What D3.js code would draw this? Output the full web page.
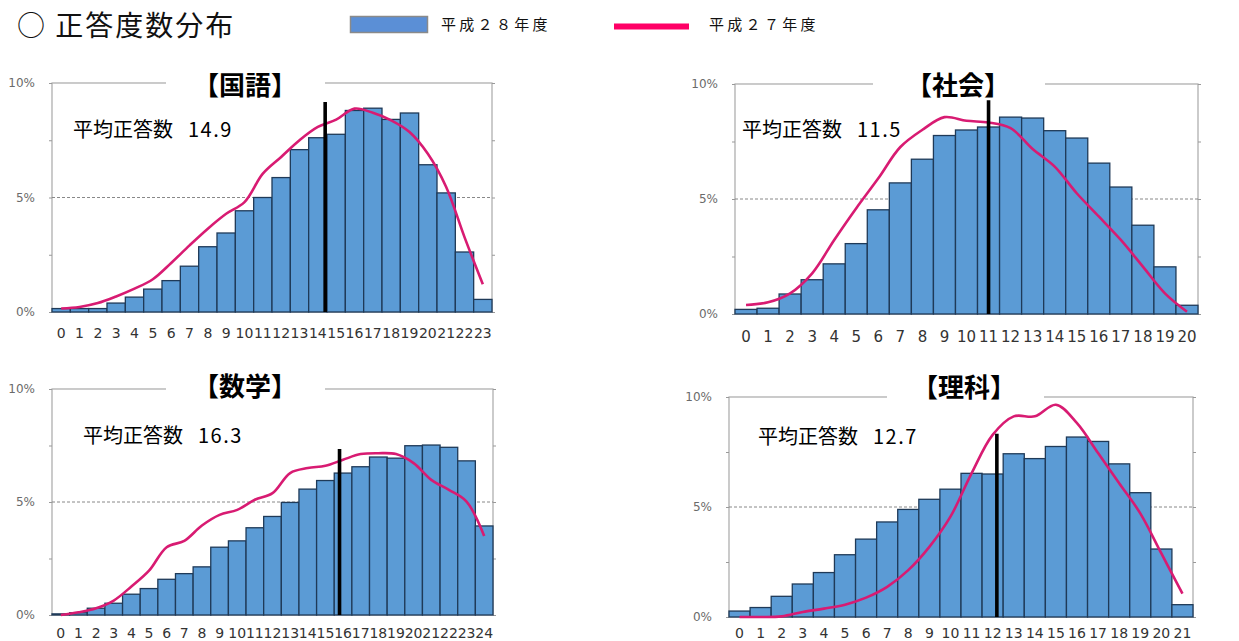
<!DOCTYPE html>
<html>
<head>
<meta charset="utf-8">
<script src="https://cdn.jsdelivr.net/npm/d3@7"></script>
<style>
  body { margin: 0; background: #fff; }
  svg { display: block; }
</style>
</head>
<body>
<svg id="chart" width="1239" height="641"></svg>
<script>
// --- data (percent of students per number of correct answers) ---
const subjects = ["国語", "社会", "数学", "理科"];
const means = [14.9, 11.5, 16.3, 12.7];
const meanLineTop = [9.17, 9.29, 7.34, 8.33];
const seriesNames = ["平成２８年度", "平成２７年度"];
const yTicks = [0, 2.5, 5, 7.5, 10];

const kokugoH28 = [0.15, 0.15, 0.15, 0.39, 0.65, 1.0, 1.37, 2.0, 2.85, 3.45, 4.42, 5.0,
                   5.87, 7.09, 7.61, 7.76, 8.8, 8.9, 8.41, 8.69, 6.43, 5.2, 2.62, 0.55];
const kokugoH27 = [0.15, 0.22, 0.39, 0.68, 1.02, 1.43, 2.14, 2.91, 3.64, 4.29, 4.8, 6.04,
                   6.77, 7.5, 8.08, 8.4, 8.88, 8.7, 8.37, 7.86, 6.91, 5.46, 3.27, 1.21];

const shakaiH28 = [0.2, 0.25, 0.87, 1.49, 2.18, 3.06, 4.53, 5.7, 6.73, 7.76, 8.0,
                   8.13, 8.56, 8.52, 7.97, 7.65, 6.56, 5.52, 3.86, 2.05, 0.38];
const shakaiH27 = [0.39, 0.51, 0.9, 1.77, 3.22, 4.6, 5.9, 7.26, 8.01, 8.56, 8.4,
                   8.33, 8.08, 7.17, 6.41, 5.25, 4.24, 3.22, 2.06, 0.9, 0.1];

const sugakuH28 = [0.05, 0.1, 0.3, 0.52, 0.92, 1.17, 1.58, 1.83, 2.13, 3.0, 3.28, 3.86, 4.36,
                   4.98, 5.57, 5.95, 6.28, 6.56, 6.99, 6.94, 7.49, 7.52, 7.42, 6.82, 3.94];
const sugakuH27 = [0.0, 0.12, 0.3, 0.64, 1.26, 1.96, 3.0, 3.28, 3.96, 4.43, 4.65, 5.1, 5.39,
                   6.28, 6.5, 6.6, 6.87, 7.12, 7.16, 7.12, 6.72, 5.98, 5.54, 5.02, 3.5];

const rikaH28 = [0.27, 0.43, 0.94, 1.5, 2.02, 2.83, 3.54, 4.32, 4.89, 5.35, 5.81,
                 6.53, 6.5, 7.42, 7.2, 7.75, 8.18, 7.98, 6.96, 5.65, 3.09, 0.56];
const rikaH27 = [0.0, 0.0, 0.03, 0.23, 0.38, 0.56, 0.88, 1.37, 2.13, 3.19, 4.56,
                 6.53, 8.28, 9.12, 9.12, 9.65, 8.81, 7.45, 6.08, 4.71, 2.89, 1.06];

const h28 = [kokugoH28, shakaiH28, sugakuH28, rikaH28];
const h27 = [kokugoH27, shakaiH27, sugakuH27, rikaH27];

// --- layout of the four panels ---
const panels = [
  { left: 52, right: 492, top: 83, bottom: 312, gap: [166, 325], titleX: 245, titleY: 83,
    avgX: 73, avgY: 137, tickY: 338, tickSize: 14 },
  { left: 735, right: 1198, top: 84, bottom: 314, gap: [873, 1045], titleX: 958, titleY: 83,
    avgX: 742, avgY: 137, tickY: 342, tickSize: 15 },
  { left: 52, right: 493, top: 389, bottom: 615, gap: [166, 325], titleX: 245, titleY: 384,
    avgX: 83, avgY: 443, tickY: 638, tickSize: 14 },
  { left: 729, right: 1193, top: 397, bottom: 617, gap: [887, 1044], titleX: 964, titleY: 385,
    avgX: 758, avgY: 444, tickY: 638, tickSize: 14 }
];

const barFill = "#5b9bd5";
const barStroke = "#1f3a58";
const lineColor = "#d81b72";
const jpFont = "'Noto Sans CJK JP', 'Noto Sans', sans-serif";

const svg = d3.select("#chart");

// header
svg.append("text")
  .attr("x", 17).attr("y", 36)
  .attr("font-family", jpFont).attr("font-size", 28)
  .attr("letter-spacing", 2)
  .attr("fill", "#111")
  .text("○ 正答度数分布");

// legend
svg.append("rect")
  .attr("x", 350.5).attr("y", 16.5).attr("width", 77).attr("height", 16)
  .attr("fill", "#5b8fd6").attr("stroke", "#8a8a8a").attr("stroke-width", 1.5);
svg.append("text")
  .attr("x", 441).attr("y", 30)
  .attr("font-family", jpFont).attr("font-size", 15).attr("letter-spacing", 3.3)
  .attr("fill", "#111").text(seriesNames[0]);
svg.append("line")
  .attr("x1", 614).attr("x2", 689).attr("y1", 26.5).attr("y2", 26.5)
  .attr("stroke", "#ff0066").attr("stroke-width", 6);
svg.append("text")
  .attr("x", 709).attr("y", 30)
  .attr("font-family", jpFont).attr("font-size", 15).attr("letter-spacing", 3.3)
  .attr("fill", "#111").text(seriesNames[1]);

panels.forEach(function(p, k) {
  const values = h28[k];
  const prev = h27[k];
  const cats = values.map((d, i) => i);

  const x = d3.scaleBand().domain(cats).range([p.left, p.right]).padding(0);
  const y = d3.scaleLinear().domain([0, 10]).range([p.bottom, p.top]);
  const xMean = d3.scaleLinear().domain([0, values.length]).range([p.left, p.right]);

  const g = svg.append("g");

  // frame
  g.append("rect")
    .attr("x", p.left).attr("y", p.top)
    .attr("width", p.right - p.left).attr("height", p.bottom - p.top)
    .attr("fill", "none").attr("stroke", "#a8a8a8").attr("stroke-width", 1.2);

  // 5% dashed gridline
  g.append("line")
    .attr("x1", p.left).attr("x2", p.right)
    .attr("y1", y(5)).attr("y2", y(5))
    .attr("stroke", "#888").attr("stroke-width", 1).attr("stroke-dasharray", "3,2");

  // y axis left
  const yAxis = g.append("g")
    .attr("transform", `translate(${p.left},0)`)
    .call(d3.axisLeft(y).tickValues(yTicks).tickSize(3).tickPadding(14)
      .tickFormat(d => d % 5 === 0 ? d + "%" : ""));
  yAxis.select(".domain").remove();
  yAxis.selectAll("line").attr("stroke", "#999");
  yAxis.selectAll("text")
    .attr("font-family", "'DejaVu Sans', Verdana, sans-serif")
    .attr("font-size", 12).attr("fill", "#6a6a6a");

  // y axis right (ticks only)
  const yAxisR = g.append("g")
    .attr("transform", `translate(${p.right},0)`)
    .call(d3.axisRight(y).tickValues(yTicks).tickSize(3).tickFormat(""));
  yAxisR.select(".domain").remove();
  yAxisR.selectAll("line").attr("stroke", "#999");

  // bars (H28)
  g.selectAll("rect.bar")
    .data(values)
    .join("rect")
    .attr("class", "bar")
    .attr("x", (d, i) => x(i))
    .attr("y", d => y(d))
    .attr("width", x.bandwidth())
    .attr("height", d => y(0) - y(d))
    .attr("fill", barFill)
    .attr("stroke", barStroke)
    .attr("stroke-width", 1.3);

  // x tick labels
  const xAxis = g.append("g")
    .attr("transform", `translate(0,${p.tickY})`)
    .call(d3.axisBottom(x).tickSize(0).tickPadding(0));
  xAxis.select(".domain").remove();
  xAxis.selectAll("text")
    .attr("dy", 0).attr("y", 0)
    .attr("font-family", "'DejaVu Sans', Verdana, sans-serif")
    .attr("font-size", p.tickSize).attr("fill", "#333");

  // line (H27)
  const line = d3.line()
    .x((d, i) => x(i) + x.bandwidth() / 2)
    .y(d => y(d))
    .curve(d3.curveCatmullRom.alpha(0.5));
  g.append("path")
    .datum(prev)
    .attr("d", line)
    .attr("fill", "none")
    .attr("stroke", lineColor)
    .attr("stroke-width", 2.6);

  // mean marker
  g.append("line")
    .attr("x1", xMean(means[k])).attr("x2", xMean(means[k]))
    .attr("y1", y(0)).attr("y2", y(meanLineTop[k]))
    .attr("stroke", "#000").attr("stroke-width", 3.6);

  // title with white background breaking the top border
  g.append("rect")
    .attr("x", p.gap[0]).attr("y", p.top - 6)
    .attr("width", p.gap[1] - p.gap[0]).attr("height", 12)
    .attr("fill", "#fff");
  g.append("text")
    .attr("x", p.titleX).attr("y", p.titleY)
    .attr("text-anchor", "middle").attr("dominant-baseline", "central")
    .attr("font-family", jpFont).attr("font-weight", "bold").attr("font-size", 26)
    .attr("fill", "#000")
    .text("【" + subjects[k] + "】");

  // average label
  const avg = g.append("text")
    .attr("x", p.avgX).attr("y", p.avgY)
    .attr("font-family", jpFont).attr("font-size", 20)
    .attr("fill", "#000");
  avg.append("tspan").text("平均正答数");
  avg.append("tspan")
    .attr("x", p.avgX + 115)
    .attr("letter-spacing", 1.5)
    .text(means[k].toFixed(1));
});
</script>
</body>
</html>
